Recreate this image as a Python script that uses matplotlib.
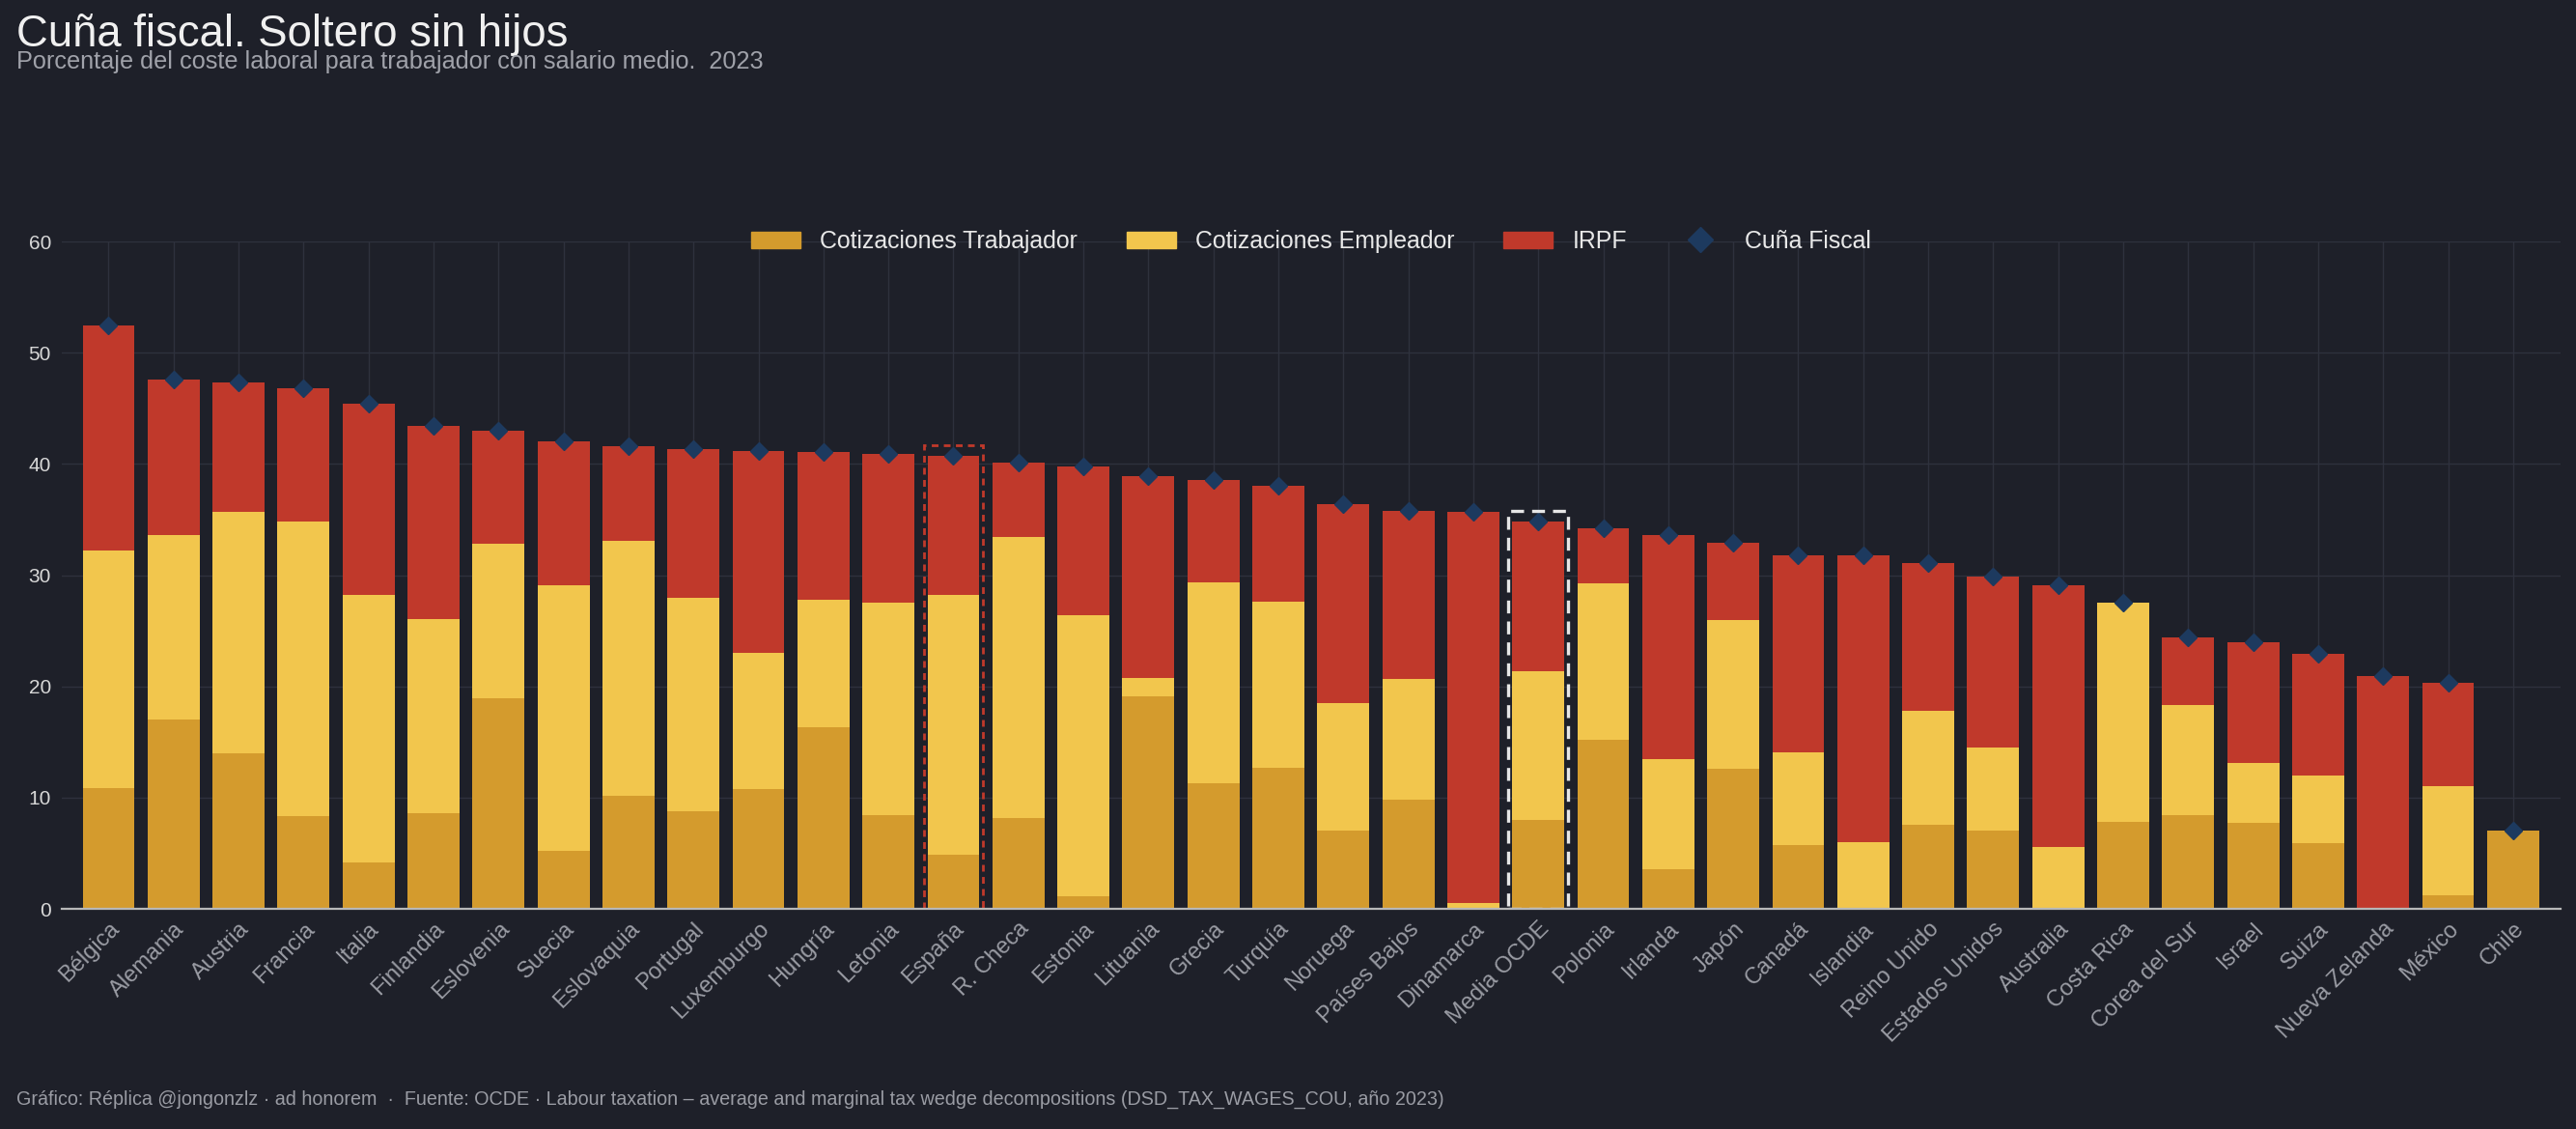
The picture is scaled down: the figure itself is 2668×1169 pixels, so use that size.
import matplotlib
matplotlib.use("Agg")
import matplotlib.pyplot as plt
from matplotlib.patches import Rectangle, Patch
from matplotlib.lines import Line2D

plt.rcParams['font.family'] = ['Liberation Sans', 'DejaVu Sans']

paises = ["Bélgica", "Alemania", "Austria", "Francia", "Italia", "Finlandia", "Eslovenia",
          "Suecia", "Eslovaquia", "Portugal", "Luxemburgo", "Hungría", "Letonia", "España",
          "R. Checa", "Estonia", "Lituania", "Grecia", "Turquía", "Noruega", "Países Bajos",
          "Dinamarca", "Media OCDE", "Polonia", "Irlanda", "Japón", "Canadá", "Islandia",
          "Reino Unido", "Estados Unidos", "Australia", "Costa Rica", "Corea del Sur",
          "Israel", "Suiza", "Nueva Zelanda", "México", "Chile"]

cot_trabajador = [10.9, 17.0, 14.0, 8.3, 4.2, 8.6, 18.9, 5.2, 10.2, 8.8, 10.8, 16.3, 8.4, 4.9,
                  8.2, 1.1, 19.1, 11.3, 12.7, 7.0, 9.8, 0.0, 8.0, 15.2, 3.6, 12.6, 5.7, 0.1,
                  7.6, 7.0, 0.0, 7.8, 8.4, 7.7, 5.9, 0.0, 1.2, 7.0]
cot_empleador = [21.3, 16.6, 21.7, 26.5, 24.0, 17.5, 13.9, 23.9, 22.9, 19.2, 12.2, 11.5, 19.1, 23.3,
                 25.2, 25.3, 1.7, 18.1, 14.9, 11.5, 10.9, 0.5, 13.4, 14.1, 9.9, 13.4, 8.4, 5.9,
                 10.2, 7.5, 5.6, 19.7, 9.9, 5.4, 6.1, 0.0, 9.8, 0.0]
irpf = [20.3, 14.0, 11.6, 12.0, 17.2, 17.3, 10.2, 12.9, 8.5, 13.3, 18.2, 13.3, 13.4, 12.5,
        6.7, 13.4, 18.1, 9.2, 10.4, 17.9, 15.1, 35.2, 13.4, 4.9, 20.1, 6.9, 17.7, 25.8,
        13.3, 15.4, 23.5, 0.0, 6.1, 10.9, 10.9, 20.9, 9.3, 0.0]
cuna_fiscal = [t + e + i for t, e, i in zip(cot_trabajador, cot_empleador, irpf)]

destacado_rojo = "España"
destacado_blanco = "Media OCDE"

BG = "#1e2029"
C_TRAB = "#d49b2d"
C_EMPL = "#f2c64d"
C_IRPF = "#c0392b"
C_DIAM = "#1d3a5f"
GRID = "#2e313d"

fig = plt.figure(figsize=(26.68, 11.69), dpi=100, facecolor=BG)
ax = fig.add_axes([0.024, 0.195, 0.970, 0.591], facecolor=BG)

x = list(range(len(paises)))
w = 0.8
base2 = cot_trabajador
base3 = [t + e for t, e in zip(cot_trabajador, cot_empleador)]
ax.bar(x, cot_trabajador, w, color=C_TRAB, zorder=2, label="Cotizaciones Trabajador")
ax.bar(x, cot_empleador, w, bottom=base2, color=C_EMPL, zorder=2, label="Cotizaciones Empleador")
ax.bar(x, irpf, w, bottom=base3, color=C_IRPF, zorder=2, label="IRPF")
ax.plot(x, cuna_fiscal, linestyle="none", marker="D", markersize=9.5, color=C_DIAM,
        zorder=4, label="Cuña Fiscal")

# highlight boxes
i_r = paises.index(destacado_rojo)
ax.add_patch(Rectangle((i_r - 0.46, 0), 0.92, cuna_fiscal[i_r] + 1.0, fill=False,
                       edgecolor=C_IRPF, lw=2.0, linestyle=(0, (2.5, 2.0)), zorder=5))
i_b = paises.index(destacado_blanco)
ax.add_patch(Rectangle((i_b - 0.46, 0), 0.92, cuna_fiscal[i_b] + 1.0, fill=False,
                       edgecolor="#e6e6e6", lw=2.4, linestyle=(0, (4.0, 2.5)), zorder=5))

ax.set_xlim(-0.72, len(paises) - 1 + 0.73)
ax.set_ylim(0, 60)
ax.set_yticks([0, 10, 20, 30, 40, 50, 60])
ax.set_xticks(x)
ax.set_xticklabels(paises, rotation=45, ha="right", rotation_mode="anchor",
                   color="#9a9ca4", fontsize=17)
ax.tick_params(axis="x", length=0, pad=7)
ax.tick_params(axis="y", length=0, pad=8, labelcolor="#d8d8d8", labelsize=15)
ax.grid(True, color=GRID, lw=1.0, zorder=0)
ax.set_axisbelow(True)
for s in ["top", "right", "left"]:
    ax.spines[s].set_visible(False)
ax.spines["bottom"].set_color("#b8b8b8")
ax.spines["bottom"].set_linewidth(1.6)
ax.spines["bottom"].set_zorder(6)

handles = [Patch(color=C_TRAB), Patch(color=C_EMPL), Patch(color=C_IRPF),
           Line2D([], [], linestyle="none", marker="D", markersize=9.5, color=C_DIAM)]
labels = ["Cotizaciones Trabajador", "Cotizaciones Empleador", "IRPF", "Cuña Fiscal"]
leg = ax.legend(handles, labels, loc="center", bbox_to_anchor=(0.5, 1.0), ncol=4,
                frameon=False, fontsize=17.9, labelcolor="#e8e8e8", handlelength=2.05,
                handleheight=0.7, handletextpad=0.8, columnspacing=2.05, markerscale=1.4)
leg.set_zorder(7)

fig.text(0.0064, 0.959, "Cuña fiscal. Soltero sin hijos", color="#f0f0f0", fontsize=32.8,
         va="baseline", ha="left")
fig.text(0.0064, 0.939, "Porcentaje del coste laboral para trabajador con salario medio.  2023",
         color="#a0a2aa", fontsize=18.2, va="baseline", ha="left")
fig.text(0.0064, 0.0265,
         "Gráfico: Réplica @jongonzlz · ad honorem  ·  Fuente: OCDE · Labour taxation – average and marginal tax wedge decompositions (DSD_TAX_WAGES_COU, año 2023)",
         color="#9a9ca4", fontsize=14.2, va="center", ha="left")

fig.savefig("out.png", dpi=100, facecolor=BG)
